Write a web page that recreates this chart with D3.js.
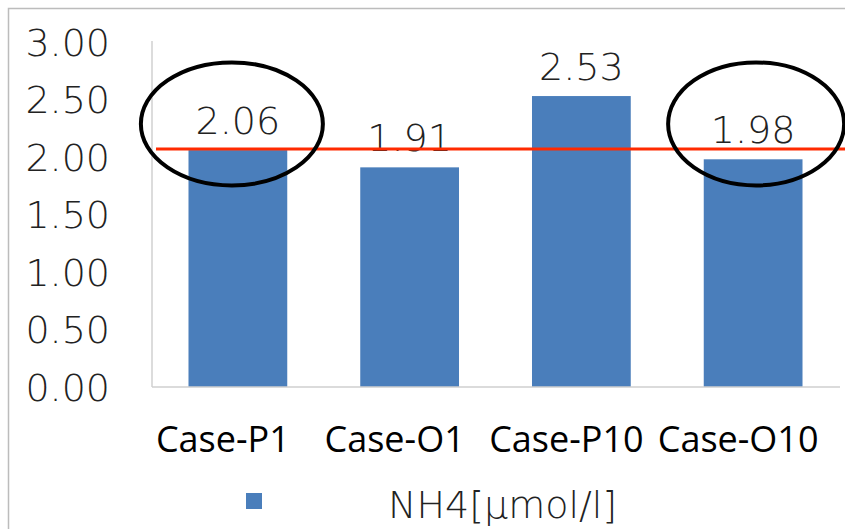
<!doctype html>
<html lang="ja">
  <head>
    <meta charset="utf-8">
    <title>NH4</title>
    <script src="https://d3js.org/d3.v7.min.js"></script>
    <style>
      body { margin: 0; background: #fff; }
      svg { display: block; }
    </style>
  </head>
  <body>
    <div id="chart"></div>
    <script>
      // data
      const categories = ["Case-P1", "Case-O1", "Case-P10", "Case-O10"];
      const values = [2.06, 1.91, 2.53, 1.98];
      const yTicks = [0, 0.5, 1.0, 1.5, 2.0, 2.5, 3.0];
      const seriesName = "NH4[μmol/l]";
      const refValue = 2.07;
      const circled = ["Case-P1", "Case-O10"];

      const W = 845, H = 529;
      const margin = {top: 42, right: 6, bottom: 142, left: 152};

      const svg = d3.select("#chart")
        .append("svg")
          .attr("width", W)
          .attr("height", H);

      // outer frame (runs off the right and bottom edges)
      svg.append("rect")
        .attr("x", 8.5).attr("y", 8.5)
        .attr("width", 900).attr("height", 600)
        .attr("fill", "none")
        .attr("stroke", "#bcbcbc")
        .attr("stroke-width", 1.5);

      const x = d3.scaleBand()
        .domain(categories)
        .range([margin.left, W - margin.right])
        .paddingInner(0.425)
        .paddingOuter(0.2125);

      const y = d3.scaleLinear()
        .domain([0, 3])
        .range([H - margin.bottom, margin.top]);

      const numFont = "'DejaVu Sans', sans-serif";
      const numSize = "38px";

      // y axis line + labels
      svg.append("line")
        .attr("x1", margin.left).attr("x2", margin.left)
        .attr("y1", margin.top - 1).attr("y2", y(0))
        .attr("stroke", "#d0d0d0").attr("stroke-width", 1.5);

      svg.append("g")
        .selectAll("text")
        .data(yTicks)
        .join("text")
          .attr("x", 110)
          .attr("y", d => y(d))
          .attr("dy", "0.36em")
          .attr("text-anchor", "end")
          .attr("font-family", numFont)
          .attr("font-weight", 200)
          .attr("font-size", numSize)
          .attr("fill", "#222")
          .text(d => d.toFixed(2));

      // bars
      svg.append("g")
        .selectAll("rect")
        .data(values)
        .join("rect")
          .attr("x", (d, i) => x(categories[i]))
          .attr("y", d => y(d))
          .attr("width", x.bandwidth())
          .attr("height", d => y(0) - y(d))
          .attr("fill", "#4a7ebb");

      // baseline
      svg.append("line")
        .attr("x1", margin.left).attr("x2", W - margin.right + 1)
        .attr("y1", y(0)).attr("y2", y(0))
        .attr("stroke", "#cfcfcf").attr("stroke-width", 1.5);

      // value labels
      svg.append("g")
        .selectAll("text")
        .data(values)
        .join("text")
          .attr("x", (d, i) => x(categories[i]) + x.bandwidth() / 2)
          .attr("y", d => y(d) - 16)
          .attr("text-anchor", "middle")
          .attr("font-family", numFont)
          .attr("font-weight", 200)
          .attr("font-size", numSize)
          .attr("fill", "#222")
          .text(d => d.toFixed(2));

      // category labels
      svg.append("g")
        .selectAll("text")
        .data(categories)
        .join("text")
          .attr("x", d => x(d) + x.bandwidth() / 2 - 15)
          .attr("y", 452)
          .attr("text-anchor", "middle")
          .attr("font-family", "'Open Sans', sans-serif")
          .attr("font-size", "36px")
          .attr("fill", "#000")
          .text(d => d);

      // red reference line
      svg.append("line")
        .attr("x1", margin.left + 4).attr("x2", W)
        .attr("y1", y(refValue)).attr("y2", y(refValue))
        .attr("stroke", "#ff2a00").attr("stroke-width", 3);

      // hand-drawn ellipses around two labels
      svg.append("g")
        .selectAll("ellipse")
        .data(circled)
        .join("ellipse")
          .attr("cx", (d, i) => x(d) + x.bandwidth() / 2 + (i === 0 ? -6 : 3))
          .attr("cy", y(refValue) - 25)
          .attr("rx", (d, i) => i === 0 ? 91 : 88)
          .attr("ry", 61.5)
          .attr("fill", "none")
          .attr("stroke", "#000")
          .attr("stroke-width", 4);

      // legend
      svg.append("rect")
        .attr("x", 246).attr("y", 493)
        .attr("width", 16).attr("height", 16)
        .attr("fill", "#4a7ebb");

      svg.append("text")
        .attr("x", 388).attr("y", 518)
        .attr("font-family", numFont)
        .attr("font-weight", 200)
        .attr("font-size", numSize)
        .attr("fill", "#222")
        .text(seriesName);
    </script>
  </body>
</html>
